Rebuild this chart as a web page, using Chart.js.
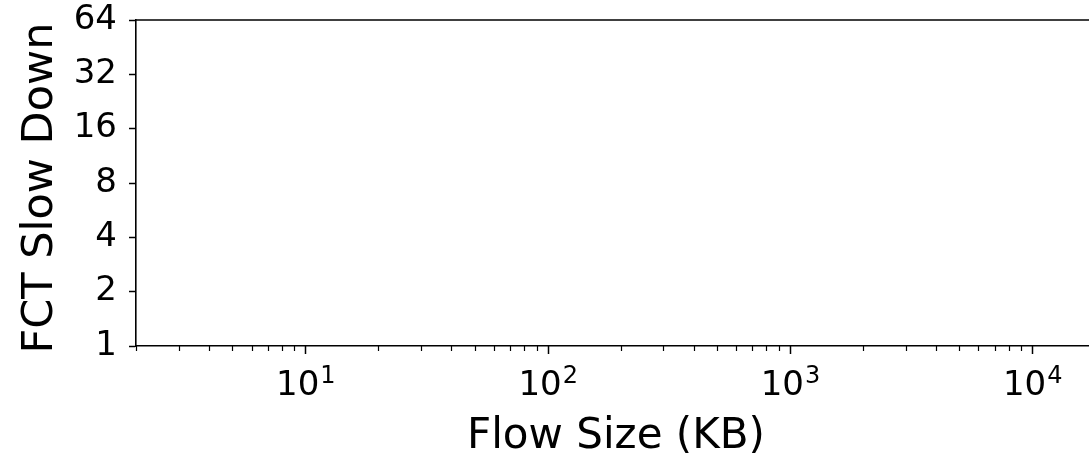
<!DOCTYPE html>
<html>
<head>
<meta charset="utf-8">
<script src="https://cdn.jsdelivr.net/npm/chart.js@4"></script>
<style>
  html, body { margin: 0; padding: 0; background: #fff; overflow: hidden; }
  canvas { display: block; }
</style>
</head>
<body>
<canvas id="c" width="1089" height="459"></canvas>
<script>
// axis setup (the plot itself is empty)
const xMin = 2
const xMax = 17150      // right edge of the visible plot area
const xMajor = [10, 100, 1000, 10000]
const xExp = ['1', '2', '3', '4']
const yTicks = [1, 2, 4, 8, 16, 32, 64]
const seriesData = []   // nothing plotted

const xTitle = 'Flow Size (KB)'
const yTitle = 'FCT Slow Down'
const font = 'DejaVu Sans'

// minor tick positions 2..9 per decade, inside the x range
let xMinor = []
for (let d = 1; d <= 10000; d *= 10) {
  for (let m = 2; m <= 9; m++) {
    let v = m * d
    if (v >= xMin && v <= xMax) xMinor.push(v)
  }
}

const axesExtras = {
  id: 'axesExtras',
  afterDraw(chart) {
    const ctx = chart.ctx
    const area = chart.chartArea
    const xs = chart.scales.x
    ctx.save()
    ctx.strokeStyle = '#000'
    // top spine
    ctx.lineWidth = 1.6
    ctx.beginPath()
    ctx.moveTo(area.left, area.top)
    ctx.lineTo(area.right, area.top)
    ctx.stroke()
    // x ticks, major + minor
    ctx.lineWidth = 1.5
    xMajor.forEach(v => {
      let px = Math.round(xs.getPixelForValue(v)) + 0.5
      ctx.beginPath()
      ctx.moveTo(px, area.bottom)
      ctx.lineTo(px, area.bottom + 8)
      ctx.stroke()
    })
    ctx.lineWidth = 1.2
    xMinor.forEach(v => {
      let px = Math.round(xs.getPixelForValue(v)) + 0.5
      ctx.beginPath()
      ctx.moveTo(px, area.bottom)
      ctx.lineTo(px, area.bottom + 5)
      ctx.stroke()
    })
    // x tick labels 10^n
    ctx.fillStyle = '#000'
    ctx.textBaseline = 'alphabetic'
    ctx.textAlign = 'left'
    xMajor.forEach((v, i) => {
      let px = xs.getPixelForValue(v)
      ctx.font = '34px "' + font + '"'
      let w1 = ctx.measureText('10').width
      ctx.font = '24px "' + font + '"'
      let w2 = ctx.measureText(xExp[i]).width
      let x0 = px - (w1 + w2) / 2
      ctx.font = '34px "' + font + '"'
      ctx.fillText('10', x0, 395)
      ctx.font = '24px "' + font + '"'
      ctx.fillText(xExp[i], x0 + w1 + 1, 383)
    })
    // axis titles (x title centred where the reference has it)
    ctx.font = '42px "' + font + '"'
    ctx.textAlign = 'center'
    ctx.fillText(xTitle, 616, 448)
    ctx.font = '43px "' + font + '"'
    ctx.translate(52, 188)
    ctx.rotate(-Math.PI / 2)
    ctx.fillText(yTitle, 0, 0)
    ctx.restore()
  }
}

new Chart(document.getElementById('c'), {
  type: 'line',
  data: {
    datasets: [{
      data: seriesData,
      borderColor: '#1f77b4',
    }]
  },
  options: {
    responsive: false,
    animation: false,
    events: [],
    layout: {
      padding: {top: 20, right: 0, bottom: 0, left: 0}
    },
    plugins: {
      legend: {display: false},
      tooltip: {enabled: false},
    },
    scales: {
      x: {
        type: 'logarithmic',
        min: xMin,
        max: xMax,
        ticks: {display: false},
        grid: {display: false},
        border: {display: true, color: '#000', width: 1.6},
        afterFit: (scale) => {
          scale.height = 113
          scale.paddingLeft = 0
          scale.paddingRight = 0
        },
      },
      y: {
        type: 'logarithmic',
        min: 1,
        max: 64,
        afterBuildTicks: (scale) => {
          scale.ticks = yTicks.map(v => ({value: v}))
        },
        ticks: {
          autoSkip: false,
          color: '#000',
          padding: 12,
          font: {family: font, size: 34},
          callback: (v) => String(v),
        },
        grid: {
          drawOnChartArea: false,
          drawTicks: true,
          tickLength: 7,
          tickColor: '#000',
          tickWidth: 1.5,
        },
        border: {display: true, color: '#000', width: 1.6},
        afterFit: (scale) => {
          scale.width = 136
          scale.paddingTop = 0
          scale.paddingBottom = 0
        },
      }
    }
  },
  plugins: [axesExtras]
});
</script>
</body>
</html>
